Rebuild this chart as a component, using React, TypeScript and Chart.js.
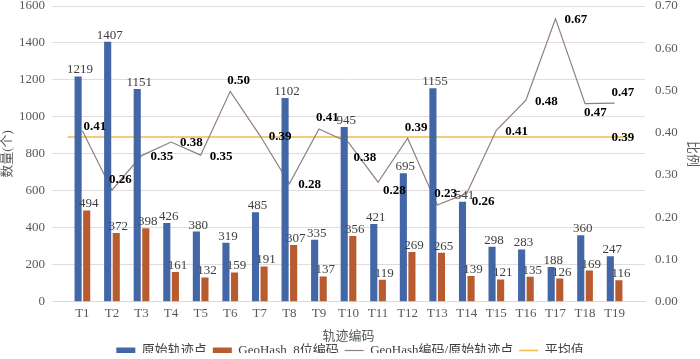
import React, { useEffect, useRef } from "react";
import { Chart, registerables } from "chart.js";

Chart.register(...registerables);

const categories = ["T1","T2","T3","T4","T5","T6","T7","T8","T9","T10","T11","T12","T13","T14","T15","T16","T17","T18","T19"];
const originalPoints = [1219,1407,1151,426,380,319,485,1102,335,945,421,695,1155,541,298,283,188,360,247];
const geohashPoints = [494,372,398,161,132,159,191,307,137,356,119,269,265,139,121,135,126,169,116];
const ratioValues = [0.405,0.264,0.346,0.378,0.347,0.498,0.394,0.279,0.409,0.377,0.283,0.387,0.229,0.257,0.406,0.477,0.670,0.469,0.470];
const averageValue = 0.39;
const leftTicks = [0, 1600, 200];
const rightTicks = [0, 0.7, 0.1];

// label placement codes for ratio labels (style only)
const ratioLabelPlace = ["tr","t","r","r","r","t","r","r","t","bb","br","t","t","br","r","r","r","b","t"];
const placeOffsets: Record<string, [number, number]> = {
  r: [9, 1], t: [-3, -11], tr: [1, -4], br: [5, 8], b: [-1, 9], bb: [5, 15],
};

const FONT = "'Liberation Serif', 'Noto Sans CJK SC', serif";
const LEGEND_PAD = 6;

const toXY = (arr: number[]) => arr.map((v, i) => ({ x: i, y: v }));

const zeroPad = (s: any) => {
  s.paddingTop = 0;
  s.paddingBottom = 0;
  s.paddingLeft = 0;
  s.paddingRight = 0;
};

const legendHeightPlugin = {
  id: "legendHeight",
  beforeLayout(chart: any) {
    const lg = chart.legend;
    if (lg && !lg._patchedFit) {
      const origFit = lg.fit.bind(lg);
      lg.fit = function () {
        origFit();
        this.height = 15;
      };
      lg._patchedFit = true;
    }
  },
  afterLayout(chart: any) {
    const lg = chart.legend;
    if (lg) {
      lg.top -= LEGEND_PAD;
      lg.bottom -= LEGEND_PAD;
    }
  },
};

const labelPlugin = {
  id: "valueLabels",
  afterDatasetsDraw(chart: any) {
    const ctx = chart.ctx;
    ctx.save();
    const barSeries = [originalPoints, geohashPoints];
    [0, 1].forEach((di) => {
      const meta = chart.getDatasetMeta(di);
      ctx.font = `13px ${FONT}`;
      ctx.fillStyle = "#404040";
      ctx.textAlign = "center";
      ctx.textBaseline = "alphabetic";
      meta.data.forEach((el: any, i: number) => {
        ctx.fillText(String(barSeries[di][i]), el.x + 2, el.y - 3);
      });
    });
    const rmeta = chart.getDatasetMeta(2);
    ctx.font = `bold 13px ${FONT}`;
    ctx.fillStyle = "#000";
    ctx.textAlign = "left";
    ctx.textBaseline = "middle";
    rmeta.data.forEach((el: any, i: number) => {
      const off = placeOffsets[ratioLabelPlace[i]];
      ctx.fillText(ratioValues[i].toFixed(2), el.x + off[0], el.y + off[1]);
    });
    const y1 = chart.scales.y1;
    const xs = chart.scales.x;
    ctx.fillText(averageValue.toFixed(2), xs.getPixelForValue(categories.length - 1) - 3, y1.getPixelForValue(averageValue) + 1);
    ctx.restore();
  },
};

export default function App() {
  const ref = useRef<HTMLCanvasElement>(null);
  useEffect(() => {
    document.body.style.margin = "0";
    Chart.defaults.font.family = FONT;
    const chart = new Chart(ref.current!, {
      type: "bar",
      data: {
        datasets: [
          {
            type: "bar",
            label: "原始轨迹点",
            data: toXY(originalPoints),
            backgroundColor: "#4366a6",
            yAxisID: "y",
            categoryPercentage: 0.58,
            barPercentage: 0.83,
            pointStyle: "rect",
          } as any,
          {
            type: "bar",
            label: "GeoHash_8位编码",
            data: toXY(geohashPoints),
            backgroundColor: "#b85b2f",
            yAxisID: "y",
            categoryPercentage: 0.58,
            barPercentage: 0.83,
            pointStyle: "rect",
          } as any,
          {
            type: "line",
            label: "GeoHash编码/原始轨迹点",
            data: toXY(ratioValues),
            borderColor: "#8e7e7e",
            backgroundColor: "#8e7e7e",
            borderWidth: 1.2,
            pointRadius: 0,
            pointStyle: "line",
            yAxisID: "y1",
          } as any,
          {
            type: "line",
            label: "平均值",
            data: [
              { x: -0.5, y: averageValue },
              { x: categories.length - 0.5, y: averageValue },
            ],
            borderColor: "#f2b84b",
            backgroundColor: "#f2b84b",
            borderWidth: 1.5,
            pointRadius: 0,
            pointStyle: "line",
            yAxisID: "y1",
          } as any,
        ],
      },
      options: {
        animation: false,
        responsive: true,
        maintainAspectRatio: false,
        layout: { padding: { top: 6, right: 0, bottom: 0, left: 0 } },
        plugins: {
          tooltip: { enabled: false },
          legend: {
            position: "bottom",
            labels: {
              usePointStyle: true,
              pointStyleWidth: 19,
              boxHeight: 6,
              padding: LEGEND_PAD,
              color: "#404040",
              font: { size: 13, family: FONT },
            },
          },
        },
        scales: {
          x: {
            type: "linear",
            min: -0.5,
            max: categories.length - 0.5,
            grid: { display: false, drawTicks: false },
            border: { color: "#d9d9d9" },
            afterBuildTicks: (scale: any) => {
              scale.ticks = categories.map((_, i) => ({ value: i }));
              scale.min = -0.5;
              scale.max = categories.length - 0.5;
            },
            afterFit: zeroPad,
            ticks: {
              autoSkip: false,
              maxRotation: 0,
              color: "#595959",
              font: { size: 13 },
              padding: 4,
              callback: (v: any) => categories[Math.round(v)] ?? "",
            },
            title: { display: true, text: "轨迹编码", color: "#595959", font: { size: 13 }, padding: { top: 3, bottom: 0 } },
          },
          y: {
            position: "left",
            min: leftTicks[0],
            max: leftTicks[1],
            afterFit: (s: any) => {
              zeroPad(s);
              s.width = 52;
            },
            ticks: { stepSize: leftTicks[2], color: "#595959", font: { size: 13 }, padding: 7, callback: (v: any) => String(v) },
            grid: { color: "#e3dcdc", drawTicks: false },
            border: { display: false },
            title: { display: true, text: "数量(个)", color: "#595959", font: { size: 13 }, padding: 0 },
          },
          y1: {
            position: "right",
            min: rightTicks[0],
            max: rightTicks[1],
            afterFit: (s: any) => {
              zeroPad(s);
              s.width = 55;
            },
            ticks: {
              stepSize: rightTicks[2],
              color: "#595959",
              font: { size: 13 },
              padding: 10,
              callback: (v: any) => Number(v).toFixed(2),
            },
            grid: { display: false, drawTicks: false },
            border: { display: false },
            title: { display: true, text: "比例", color: "#595959", font: { size: 13 }, padding: 0 },
          },
        },
      },
      plugins: [legendHeightPlugin, labelPlugin],
    } as any);
    return () => chart.destroy();
  }, []);
  return (
    <div style={{ width: 700, height: 359, position: "relative" }}>
      <canvas ref={ref} />
    </div>
  );
}
